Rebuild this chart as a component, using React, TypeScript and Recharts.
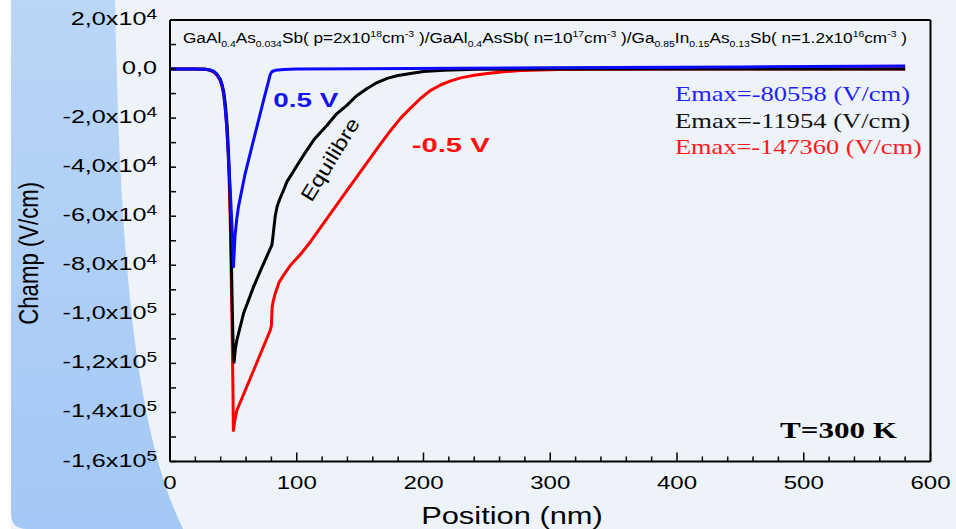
import { LineChart, Line, XAxis, YAxis } from 'recharts';

const W = 956;
const H = 529;
const SANS = '"Liberation Sans", Arial, sans-serif';
const SERIF = '"Liberation Serif", "Times New Roman", serif';
const PLOT_BOTTOM = 461.5;

// position (nm) and field (V/cm)
const biasFwdX = [0, 20, 28, 31.6, 34.5, 36.9, 39, 40.8, 42.2, 43.5, 44.8, 46.1, 47.5, 48.8, 49.6, 50.1, 51.3, 52.7, 54, 59.3, 65.9, 72.5, 79.1, 80.5, 83, 90, 100, 150, 300, 450, 580];
const biasFwdE = [0, 0, -50, -300, -1000, -2000, -3800, -6000, -9500, -15500, -24000, -35800, -49000, -63000, -74000, -80558, -68000, -61000, -56200, -42600, -29000, -15400, -2200, -1000, -500, -200, 0, 100, 500, 850, 1200];

const equilX = [0, 20, 28, 31, 34.5, 37.2, 39.8, 41.3, 42.5, 43.8, 45.1, 46.3, 47.2, 48, 48.6, 49.2, 49.8, 50.5, 51.5, 52.7, 58, 65.9, 72, 79.1, 80.4, 81.5, 83, 84.5, 87, 89.6, 92.2, 100, 105.4, 114, 123.9, 131, 139.7, 147, 155.5, 163, 171.3, 180, 189.7, 200, 216, 242, 300, 580];
const equilE = [0, 0, -80, -350, -1000, -2300, -4200, -6800, -9500, -15000, -23000, -35500, -49000, -65000, -83000, -99000, -112000, -119540, -114500, -110600, -99700, -88800, -81500, -73200, -71800, -67000, -60000, -56000, -52500, -49400, -46000, -39500, -35100, -28500, -22900, -18500, -14700, -11000, -7900, -5600, -3800, -2600, -1800, -1000, -500, -100, 0, 0];

const biasRevX = [0, 20, 28, 31, 34.3, 37, 39.5, 41, 42.2, 43.5, 44.8, 46, 46.9, 47.7, 48.3, 48.8, 49.3, 49.7, 50, 51.2, 52.7, 65.9, 79.1, 80, 80.6, 81.5, 83, 86, 89.6, 95, 103, 110.7, 137, 163.4, 172, 181.8, 190, 197.6, 205, 213.4, 221, 229.2, 240, 250.4, 263, 276.7, 307, 350, 400, 580];
const biasRevE = [0, 0, -100, -400, -1100, -2500, -4500, -7000, -9900, -15500, -23500, -36000, -49400, -66000, -83400, -100000, -117400, -132000, -147360, -143000, -139200, -122900, -106500, -104500, -97000, -94500, -91500, -87000, -84000, -80000, -75500, -70500, -51400, -32400, -26400, -20100, -15800, -12000, -8900, -6500, -4900, -3600, -2500, -1800, -1100, -600, -150, -30, 0, 0];

const xTicks = [0, 20, 40, 60, 80, 100, 120, 140, 160, 180, 200, 220, 240, 260, 280, 300, 320, 340, 360, 380, 400, 420, 440, 460, 480, 500, 520, 540, 560, 580, 600];
const yTicks = [20000, 10000, 0, -10000, -20000, -30000, -40000, -50000, -60000, -70000, -80000, -90000, -100000, -110000, -120000, -130000, -140000, -150000, -160000];

const emaxLabels = ['Emax=-80558 (V/cm)', 'Emax=-11954 (V/cm)', 'Emax=-147360 (V/cm)'];

// text pieces of the heading: 0 normal, -1 subscript, 1 superscript
const titleParts: [string, number][] = [
  ['GaAl', 0], ['0.4', -1], ['As', 0], ['0.034', -1], ['Sb( p=2x10', 0], ['18', 1], ['cm', 0], ['-3', 1],
  [' )/GaAl', 0], ['0.4', -1], ['AsSb( n=10', 0], ['17', 1], ['cm', 0], ['-3', 1],
  [' )/Ga', 0], ['0.85', -1], ['In', 0], ['0.15', -1], ['As', 0], ['0.13', -1], ['Sb( n=1.2x10', 0], ['16', 1], ['cm', 0], ['-3', 1], [' )', 0],
];

const zip = (xs: number[], es: number[]) => xs.map((x, i) => ({ x, e: es[i] }));
const fwdData = zip(biasFwdX, biasFwdE);
const eqData = zip(equilX, equilE);
const revData = zip(biasRevX, biasRevE);

function sci(v: number): [string, string | null] {
  if (v === 0) return ['0,0', null];
  const exp = Math.floor(Math.log10(Math.abs(v)));
  const m = (v / Math.pow(10, exp)).toFixed(1).replace('.', ',');
  return [m + 'x10', String(exp)];
}

function YTick({ y, payload }: any) {
  const v = payload.value;
  if (v % 20000 !== 0) return null;
  const [base, exp] = sci(v);
  return (
    <text transform={`translate(157,${y + 5}) scale(1.36,1)`} textAnchor="end" fontFamily={SANS} fontSize={18.5} fill="#000">
      {base}
      {exp && <tspan fontSize={14} dy={-6}>{exp}</tspan>}
    </text>
  );
}

// bottom ticks: long mark + label every 100 nm, short mark every 20 nm
function XTick({ x, payload }: any) {
  const v = payload.value;
  const major = v % 100 === 0;
  return (
    <g>
      <line x1={x} x2={x} y1={PLOT_BOTTOM} y2={PLOT_BOTTOM - (major ? 9 : 5)} stroke="#000" strokeWidth={1.5} />
      {major && (
        <text transform={`translate(${x},488.7) scale(1.3,1)`} textAnchor="middle" fontFamily={SANS} fontSize={18.5} fill="#000">
          {v}
        </text>
      )}
    </g>
  );
}

function Title() {
  let cur = 0;
  return (
    <text x={183} y={43.3} fontFamily={SANS} fontSize={14} fill="#000" textLength={724} lengthAdjust="spacingAndGlyphs" style={{ whiteSpace: 'pre' }}>
      {titleParts.map(([t, k], i) => {
        const target = k === -1 ? 3.5 : k === 1 ? -6 : 0;
        const dy = target - cur;
        cur = target;
        return <tspan key={i} dy={dy} fontSize={k === 0 ? 14 : 8.5}>{t}</tspan>;
      })}
    </text>
  );
}

function Background() {
  return (
    <svg width={W} height={H} style={{ position: 'absolute', left: 0, top: 0 }}>
      <defs>
        <linearGradient id="band" x1="0" y1="0" x2="0" y2="1">
          <stop offset="0%" stopColor="#bad6f7" />
          <stop offset="100%" stopColor="#a3c8f5" />
        </linearGradient>
      </defs>
      <rect x={0} y={0} width={W} height={H} fill="#eef3fa" />
      <rect x={0} y={0} width={11} height={H} fill="#ffffff" />
      <path d="M11 0 L115 0 C120 260 135 430 183 529 L27 529 Q11 529 11 513 Z" fill="url(#band)" />
    </svg>
  );
}

function Notes() {
  const colors = ['#1f1fff', '#111111', '#ff1a1a'];
  const widths = [235, 235, 246.7];
  const baselines = [101, 128, 154];
  return (
    <svg width={W} height={H} style={{ position: 'absolute', left: 0, top: 0, pointerEvents: 'none' }}>
      <Title />
      <text transform="translate(37.5,253.3) scale(1.35,1) rotate(-90)" textAnchor="middle" fontFamily={SANS} fontSize={20} fill="#000" textLength={143} lengthAdjust="spacingAndGlyphs">
        Champ (V/cm)
      </text>
      <text x={512} y={523.7} textAnchor="middle" fontFamily={SANS} fontSize={23.3} fill="#000" textLength={181.7} lengthAdjust="spacingAndGlyphs">
        Position (nm)
      </text>
      {emaxLabels.map((t, i) => (
        <text key={t} x={675} y={baselines[i]} fontFamily={SERIF} fontSize={22} fill={colors[i]} textLength={widths[i]} lengthAdjust="spacingAndGlyphs">
          {t}
        </text>
      ))}
      <text x={780} y={438.3} fontFamily={SERIF} fontWeight="bold" fontSize={24} fill="#000" textLength={117} lengthAdjust="spacingAndGlyphs">
        T=300 K
      </text>
      <text x={273.3} y={106.7} fontFamily={SANS} fontWeight="bold" fontSize={21} fill="#1414f0" textLength={65} lengthAdjust="spacingAndGlyphs">
        0.5 V
      </text>
      <text x={411.7} y={151.7} fontFamily={SANS} fontWeight="bold" fontSize={21} fill="#ff1010" textLength={78} lengthAdjust="spacingAndGlyphs">
        -0.5 V
      </text>
      <text transform="translate(336,163) rotate(-58.5)" textAnchor="middle" fontFamily={SANS} fontSize={20} fill="#000" textLength={94} lengthAdjust="spacingAndGlyphs">
        Equilibre
      </text>
    </svg>
  );
}

export default function App() {
  const axisLine = { stroke: '#000', strokeWidth: 2 };
  const tickLine = { stroke: '#000', strokeWidth: 1.5 };
  return (
    <div style={{ position: 'absolute', left: 0, top: 0, width: W, height: H, overflow: 'hidden' }}>
      <Background />
      <div style={{ position: 'absolute', left: 0, top: 0 }}>
        <LineChart width={W} height={H} margin={{ top: 19, right: 24.5, bottom: 66.5, left: 169 }}>
          <XAxis xAxisId="b" type="number" dataKey="x" domain={[0, 600]} ticks={xTicks} interval={0} allowDataOverflow
            height={1} axisLine={axisLine} tickLine={false} tick={<XTick />} />
          <XAxis xAxisId="t" orientation="top" type="number" dataKey="x" domain={[0, 600]} ticks={xTicks} interval={0} allowDataOverflow
            height={1} tickSize={-5} axisLine={axisLine} tickLine={tickLine} tick={false} />
          <YAxis yAxisId="l" type="number" domain={[-160000, 20000]} ticks={yTicks} interval={0} allowDataOverflow
            width={1} tickSize={-6} tickMargin={10} axisLine={axisLine} tickLine={tickLine} tick={<YTick />} />
          <YAxis yAxisId="r" orientation="right" type="number" domain={[-160000, 20000]} ticks={yTicks} interval={0} allowDataOverflow
            width={1} tickSize={-5} axisLine={axisLine} tickLine={tickLine} tick={false} />
          <Line xAxisId="b" yAxisId="l" data={revData} dataKey="e" type="linear" stroke="#ff0000" strokeWidth={3} strokeLinejoin="round" dot={false} isAnimationActive={false} />
          <Line xAxisId="b" yAxisId="l" data={eqData} dataKey="e" type="linear" stroke="#000000" strokeWidth={3} strokeLinejoin="round" dot={false} isAnimationActive={false} />
          <Line xAxisId="b" yAxisId="l" data={fwdData} dataKey="e" type="linear" stroke="#0a0aff" strokeWidth={3} strokeLinejoin="round" dot={false} isAnimationActive={false} />
        </LineChart>
      </div>
      <Notes />
    </div>
  );
}
